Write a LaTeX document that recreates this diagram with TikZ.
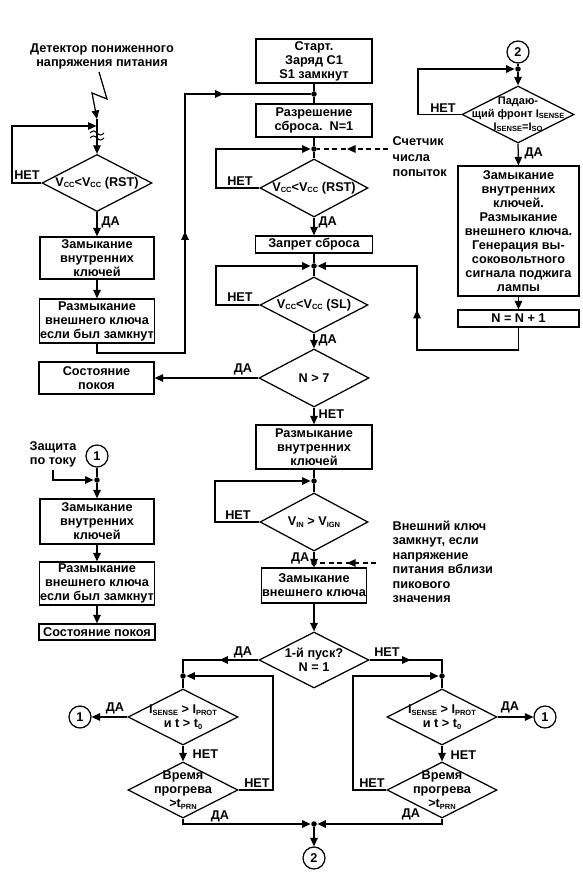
\documentclass[tikz,border=0pt]{standalone}
\usepackage{fontspec}
\setmainfont{Liberation Sans}
\usetikzlibrary{arrows.meta,shapes.geometric,decorations.markings}
\newcommand\lo[1]{\raisebox{-0.12em}{\fontsize{7.5}{7.5}\selectfont #1}}
\tikzset{
  box/.style={draw, align=center, inner sep=1pt},
  dia/.style={diamond, draw, inner sep=0pt, minimum width=110pt, minimum height=57pt},
  dot/.style={circle, fill, inner sep=0pt, minimum size=5.5pt},
  circ/.style={circle, draw, inner sep=0pt, minimum size=22pt},
  lab/.style={inner sep=0pt},
  txt/.style={inner sep=0pt, align=center},
  midarr/.style={postaction={decorate,decoration={markings,mark=at position #1 with {\arrow{>}}}}},
  midarrtwo/.style 2 args={postaction={decorate,decoration={markings,mark=at position #1 with {\arrow{>}},mark=at position #2 with {\arrow{>}}}}},
  dsh/.style={dash pattern=on 5pt off 3.5pt},
}
\begin{document}
\begin{tikzpicture}[x=1pt,y=-1pt,line width=1.25pt,>={Triangle[length=8.5pt,width=7.5pt]},
  font=\fontsize{12.7}{14}\selectfont\bfseries]
\useasboundingbox (0,0) rectangle (582,877);

% ---------- left column, top ----------
\node[txt] (det) at (102,56) {Детектор пониженного\\напряжения питания};
\coordinate (z1) at (99,72);
\coordinate (z2) at (107,99);
\coordinate (z3) at (92,93);
\coordinate (z4) at (97,119);
\draw[->] (z1) -- (z2) -- (z3) -- (z4);
\coordinate (j0) at (97,126);
\node[dia, label={[align=center]center:{V\lo{CC}<V\lo{CC} (RST)}}] (d1) at (97,183) {};
\draw[->] (z4) -- (d1.north);
\draw[line width=1pt] (90,133) sin (93.5,131) cos (97,133) sin (100.5,135) cos (104,133);
\draw[line width=1pt] (90,138) sin (93.5,136) cos (97,138) sin (100.5,140) cos (104,138);
\draw[->,shorten >=0.5pt] (d1.west) -- (12,183) -- (12,126) -- (j0);
\node[lab] at (27,175) {НЕТ};
\node[box, minimum width=114, minimum height=42] (b1) at (97,258) {Замыкание\\внутренних\\ключей};
\draw[->] (d1.south) -- (b1.north);
\node[lab, anchor=west] at (101,222) {ДА};
\node[box, minimum width=114, minimum height=44] (b2) at (97,321) {Размыкание\\внешнего ключа\\если был замкнут};
\draw[->] (b1) -- (b2);

% ---------- central column ----------
\node[box, minimum width=116, minimum height=44] (b3) at (314,61) {Старт.\\Заряд C1\\S1 замкнут};
\node[dot] (j1) at (314,94) {};
\node[box, minimum width=116, minimum height=33] (b4) at (314,120.5) {Разрешение\\сброса.\ \ N=1};
\draw (b3) -- (j1) -- (b4);
\draw[midarrtwo={219pt}{395pt}] (b2.south) -- (97,353) -- (185,353) -- (185,94) -- (j1);
\node[dot] (j2) at (314,149) {};
\draw (b4) -- (j2);
\node[dia, minimum width=108pt, minimum height=58pt, label={[align=center]center:{V\lo{CC}<V\lo{CC} (RST)}}] (d2) at (314,188) {};
\draw (j2) -- (d2.north);
\draw[->] (d2.west) -- (216,188) -- (216,149) -- (j2);
\node[lab] at (240,181) {НЕТ};
\coordinate (cnt) at (388,149);
\draw[dsh, midarr=41pt] (cnt) -- (j2);
\node[lab, anchor=west, align=left, font=\fontsize{12.7}{15.5}\selectfont\bfseries] at (392,157) {Счетчик\\числа\\попыток};
\node[lab, anchor=west] at (318,222) {ДА};
\node[box, minimum width=117, minimum height=17] (b5) at (314,244.5) {Запрет сброса};
\draw[->] (d2.south) -- (b5.north);
\node[dot] (j3) at (314,266) {};
\draw (b5) -- (j3);
\node[dia, minimum width=108pt, minimum height=56pt, label={[align=center]center:{V\lo{CC}<V\lo{CC} (SL)}}] (d3) at (314,305) {};
\draw (j3) -- (d3.north);
\draw[->] (d3.west) -- (216,305) -- (216,266) -- (j3);
\node[lab] at (240,297) {НЕТ};
\node[lab, anchor=west] at (318,340) {ДА};
\node[dia, minimum height=58pt, label={[align=center]center:{N > 7}}] (d4) at (314,378) {};
\draw[->] (d3.south) -- (d4.north);
\node[box, minimum width=115, minimum height=32] (b6) at (96.5,378) {Состояние\\покоя};
\draw[->] (d4.west) -- (b6.east);
\node[lab] at (243,369) {ДА};
\node[lab, anchor=west] at (318,414) {НЕТ};
\node[box, minimum width=116, minimum height=44] (b7) at (314,447) {Размыкание\\внутренних\\ключей};
\draw[->] (d4.south) -- (b7.north);
\node[dot] (j4) at (314,481) {};
\node[dia, minimum width=108pt, minimum height=58pt, label={[align=center]center:{V\lo{IN} > V\lo{IGN}}}] (d5) at (314,522) {};
\draw (b7) -- (j4) -- (d5.north);
\draw[->] (d5.west) -- (215,522) -- (215,481) -- (j4);
\node[lab] at (238,515) {НЕТ};
\node[dot] (j5) at (314,563) {};
\draw (d5.south) -- (j5);
\node[lab, anchor=east] at (310,558) {ДА};
\coordinate (ext) at (376,563);
\draw[dsh, midarr=29pt] (ext) -- (j5);
\node[lab, anchor=west, align=left, font=\fontsize{12.7}{14.5}\selectfont\bfseries] at (392,562) {Внешний ключ\\замкнут, если\\напряжение\\питания вблизи\\пикового\\значения};
\node[box, minimum width=92, minimum height=35] (b8) at (314,585.5) {Замыкание\\внешнего ключа};
\draw[->] (j5) -- (b8.north);
\node[dia, minimum height=56pt, label={[align=center]center:{1-й пуск?\\N = 1}}] (d6) at (314,660) {};
\draw[->] (b8) -- (d6.north);

% ---------- bottom left branch ----------
\node[dot] (j6) at (183,676) {};
\node[dia, minimum height=56pt, label={[align=center]center:{I\lo{SENSE} > I\lo{PROT}\\и t > t\lo{0}}}] (d7) at (183,717) {};
\node[dia, minimum height=56pt, label={[align=center]center:{Время\\прогрева\\>t\lo{PRN}}}] (d8) at (183,790) {};
\node[circ] (c1a) at (80,717) {1};
\node[dot] (j7) at (314,824) {};
\node[circ] (c2b) at (314,858) {2};
\draw[midarr=39pt] (d6.west) -- (183,660) -- (j6);
\node[lab] at (243,652) {ДА};
\draw (j6) -- (d7.north);
\draw[->] (d7.west) -- (c1a);
\node[lab] at (115,708) {ДА};
\draw[->] (d7.south) -- (d8.north);
\node[lab, anchor=west] at (192,754) {НЕТ};
\draw[->] (d8.east) -- (273,790) -- (273,676) -- (j6);
\node[lab] at (257,783) {НЕТ};
\draw[->] (d8.south) -- (183,824) -- (j7);
\node[lab] at (220,816) {ДА};
\draw[->] (j7) -- (c2b);

% ---------- bottom right branch ----------
\node[dot] (j8) at (442,676) {};
\node[dia, minimum height=56pt, label={[align=center]center:{I\lo{SENSE} > I\lo{PROT}\\и t > t\lo{0}}}] (d9) at (442,717) {};
\node[dia, minimum height=56pt, label={[align=center]center:{Время\\прогрева\\>t\lo{PRN}}}] (d10) at (442,790) {};
\node[circ] (c1b) at (545,717) {1};
\draw[midarr=41pt] (d6.east) -- (442,660) -- (j8);
\node[lab] at (387,652) {НЕТ};
\draw (j8) -- (d9.north);
\draw[->] (d9.east) -- (c1b);
\node[lab] at (510,707) {ДА};
\draw[->] (d9.south) -- (d10.north);
\node[lab, anchor=west] at (450,755) {НЕТ};
\draw[->] (d10.west) -- (353,790) -- (353,676) -- (j8);
\node[lab] at (372,783) {НЕТ};
\draw[->] (d10.south) -- (442,824) -- (j7);
\node[lab] at (411,814) {ДА};

% ---------- right column, top ----------
\node[circ] (c2a) at (518,52) {2};
\node[dot] (j9) at (518,69) {};
\draw (c2a) -- (j9);
\node[dia, minimum width=112pt, minimum height=57pt, label={[align=center, font=\fontsize{11}{13}\selectfont\bfseries]center:{Падаю-\\щий фронт I\lo{SENSE}\\I\lo{SENSE}=I\lo{SO}}}] (d11) at (518,114.5) {};
\draw[->] (j9) -- (d11.north);
\draw[->] (d11.west) -- (418,114.5) -- (418,69) -- (j9);
\node[lab] at (443,108) {НЕТ};
\node[box, minimum width=121, minimum height=130] (b9) at (518.5,231) {Замыкание\\внутренних\\ключей.\\Размыкание\\внешнего ключа.\\Генерация вы-\\соковольтного\\сигнала поджига\\лампы};
\draw[->] (d11.south) -- (b9.north);
\node[lab, anchor=west] at (524,153) {ДА};
\node[box, minimum width=121, minimum height=17] (b10) at (518.5,318.5) {N = N + 1};
\draw[->] (b9) -- (b10);
\draw[->, midarr=164pt] (b10.south) -- (518.5,350) -- (417,350) -- (417,266) -- (j3);

% ---------- left column, bottom ----------
\node[txt] (zt) at (53,454) {Защита\\по току};
\node[circ] (c1c) at (97,456) {1};
\node[dot] (j10) at (97,480) {};
\draw (c1c) -- (j10);
\draw[->] ([yshift=-3pt]zt.south) |- (j10);
\node[box, minimum width=114, minimum height=45] (b11) at (97,521.5) {Замыкание\\внутренних\\ключей};
\node[box, minimum width=114, minimum height=43] (b12) at (97,583.5) {Размыкание\\внешнего ключа\\если был замкнут};
\node[box, minimum width=116, minimum height=16] (b13) at (97,632) {Состояние покоя};
\draw[->] (j10) -- (b11);
\draw[->] (b11) -- (b12);
\draw[->] (b12) -- (b13);
\end{tikzpicture}
\end{document}
